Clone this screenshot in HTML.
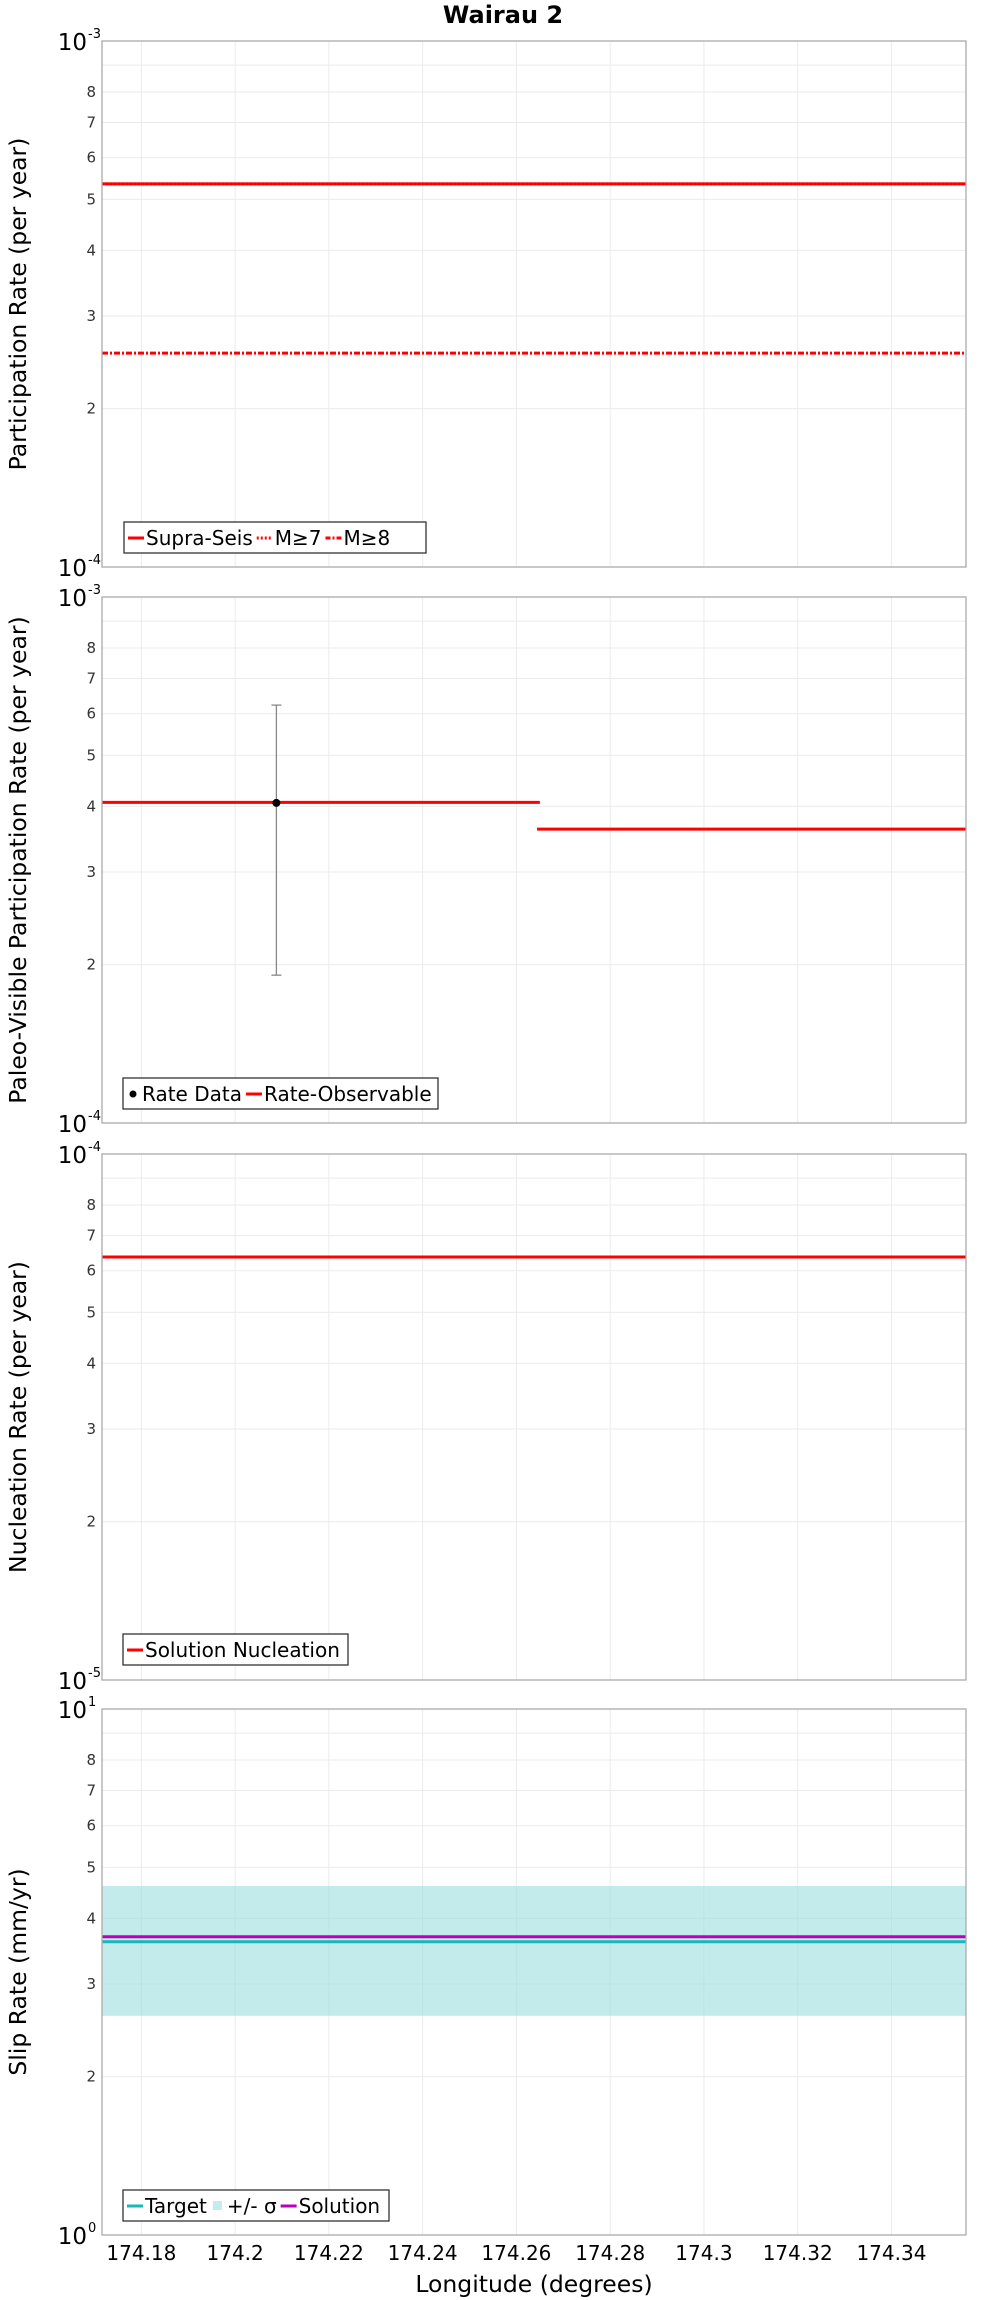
<!DOCTYPE html>
<html><head><meta charset="utf-8"><style>
html,body{margin:0;padding:0;background:#fff;width:1000px;height:2300px;overflow:hidden}
svg{display:block;font-family:"DejaVu Sans","Liberation Sans",sans-serif}
</style></head><body>
<svg id="chart" width="1000" height="2300" viewBox="0 0 1000 2300" xmlns="http://www.w3.org/2000/svg">
<text x="503" y="23" text-anchor="middle" font-size="24" font-weight="bold">Wairau 2</text>
</svg>
<script>
const xTicks = [174.18,174.2,174.22,174.24,174.26,174.28,174.3,174.32,174.34];
const xTickLabels = ["174.18","174.2","174.22","174.24","174.26","174.28","174.3","174.32","174.34"];
const xDomain = [174.1716, 174.3559];
const minorTicks = [2,3,4,5,6,7,8,9];
const minorLabels = ["2","3","4","5","6","7","8",""];
// panel 1
const p1SupraSeis = 5.35e-4;
const p1M7 = 5.35e-4;
const p1M8 = 2.55e-4;
// panel 2
const p2SegStart = [174.1716, 174.2644];
const p2SegEnd = [174.2650, 174.3559];
const p2SegValue = [4.07e-4, 3.62e-4];
const p2DataX = [174.2088];
const p2DataY = [4.06e-4];
const p2DataHi = [6.23e-4];
const p2DataLo = [1.91e-4];
// panel 3
const p3Nucleation = 6.37e-5;
// panel 4
const p4Target = 3.61;
const p4SigmaHi = 4.61;
const p4SigmaLo = 2.61;
const p4Solution = 3.69;

const NS="http://www.w3.org/2000/svg";
const svg=document.getElementById('chart');
const L=102,R=966,H=526;
const tops=[41,597,1154,1709];
function xs(v){return L+(v-xDomain[0])/(xDomain[1]-xDomain[0])*(R-L);}
function mk(tag,attrs,parent){const e=document.createElementNS(NS,tag);for(const k in attrs)e.setAttribute(k,attrs[k]);(parent||svg).appendChild(e);return e;}
function ysFactory(top,lo){return v=>top+H-(Math.log10(v)-lo)*H;}

const panels=[
 {lo:-4,title:"Participation Rate (per year)",topExp:"-3",botExp:"-4",name:"participation"},
 {lo:-4,title:"Paleo-Visible Participation Rate (per year)",topExp:"-3",botExp:"-4",name:"paleo"},
 {lo:-5,title:"Nucleation Rate (per year)",topExp:"-4",botExp:"-5",name:"nucleation"},
 {lo:0,title:"Slip Rate (mm/yr)",topExp:"1",botExp:"0",name:"slip"}
];
const ysArr=[];
panels.forEach((p,i)=>{
 const top=tops[i];const ys=ysFactory(top,p.lo);ysArr.push(ys);
 const g=mk('g',{});
 
 
 mk('rect',{x:L,y:top,width:R-L,height:H,fill:'#fff'},g);
 xTicks.forEach(t=>{const l=mk('line',{x1:xs(t),x2:xs(t),y1:top,y2:top+H,stroke:'#ebebeb','stroke-width':1},g);
  });
 const base=Math.pow(10,p.lo);
 minorTicks.forEach((m,j)=>{const y=ys(m*base);
  const l=mk('line',{x1:L,x2:R,y1:y,y2:y,stroke:'#ebebeb','stroke-width':1},g);
  
  if(minorLabels[j]){const t=mk('text',{x:96,y:y+5,'text-anchor':'end','font-size':15,fill:'#333'},g);t.textContent=minorLabels[j];
   }
 });
 [[top,p.topExp],[top+H,p.botExp]].forEach(([y,e])=>{
  const t=mk('text',{x:87,y:y+9,'text-anchor':'end','font-size':23,fill:'#000'},g);t.textContent='10';
  
  const s=mk('text',{x:88,y:y-3,'font-size':13,fill:'#000'},g);s.textContent=e;
  
 });
 const yt=mk('text',{x:0,y:0,'text-anchor':'middle','font-size':23.5,fill:'#000',transform:`translate(26,${top+H/2}) rotate(-90)`},g);
 yt.textContent=p.title;
});

function hline(ys,v,x0,x1,color,w,dash,name){const y=ys(v);const l=mk('line',{x1:xs(x0),x2:xs(x1),y1:y,y2:y,stroke:color,'stroke-width':w});
 if(dash)l.setAttribute('stroke-dasharray',dash);
 return l;}

hline(ysArr[0],p1M8,xDomain[0],xDomain[1],'#ff0000',3,'6,2,2,2','m8-line');
hline(ysArr[0],p1M7,xDomain[0],xDomain[1],'#ff0000',3,'2,2','m7-line');
hline(ysArr[0],p1SupraSeis,xDomain[0],xDomain[1],'#ff0000',3,null,'supra-seis-line');
p2SegValue.forEach((v,i)=>hline(ysArr[1],v,p2SegStart[i],p2SegEnd[i],'#ff0000',3,null,'rate-observable-segment'));
p2DataX.forEach((x,i)=>{const ys=ysArr[1];const cx=xs(x);
 const e=mk('line',{x1:cx,x2:cx,y1:ys(p2DataHi[i]),y2:ys(p2DataLo[i]),stroke:'#888','stroke-width':1.3});
 
 [p2DataHi[i],p2DataLo[i]].forEach(v=>{const c=mk('line',{x1:cx-5,x2:cx+5,y1:ys(v),y2:ys(v),stroke:'#888','stroke-width':1.3});
  });
 const d=mk('circle',{cx:cx,cy:ys(p2DataY[i]),r:4,fill:'#000'});
 
});
hline(ysArr[2],p3Nucleation,xDomain[0],xDomain[1],'#ff0000',3,null,'solution-nucleation-line');
{const ys=ysArr[3];const b=mk('rect',{x:L,y:ys(p4SigmaHi),width:R-L,height:ys(p4SigmaLo)-ys(p4SigmaHi),fill:'#9edfdf','fill-opacity':0.62});
 }
hline(ysArr[3],p4Target,xDomain[0],xDomain[1],'#14b9b9',3,null,'target-line');
hline(ysArr[3],p4Solution,xDomain[0],xDomain[1],'#bb00bb',3,null,'solution-line');

tops.forEach(top=>{const f=mk('rect',{x:L,y:top,width:R-L,height:H,fill:'none',stroke:'#aaa','stroke-width':1.3});
 });

xTicks.forEach((t,i)=>{const e=mk('text',{x:xs(t),y:2260,'text-anchor':'middle','font-size':20,fill:'#000'});e.textContent=xTickLabels[i];
 });
{const e=mk('text',{x:534,y:2292,'text-anchor':'middle','font-size':23.5,fill:'#000'});e.textContent='Longitude (degrees)';
 }

function legend(x,y,w,items,name){const g=mk('g',{});
 const box=mk('rect',{x:x,y:y,width:w,height:31,fill:'#fff',stroke:'#333','stroke-width':1.3},g);
 let cx=x+4;const cy=y+16;
 items.forEach(it=>{
  if(it.kind==='dot'){mk('circle',{cx:cx+6,cy:cy,r:3.5,fill:'#000'},g);cx+=15;}
  else if(it.kind==='sq'){mk('rect',{x:cx+2,y:cy-5,width:9,height:9,fill:'#c3ecec'},g);cx+=16;}
  else{const l=mk('line',{x1:cx,x2:cx+16,y1:cy,y2:cy,stroke:it.color,'stroke-width':3},g);if(it.dash)l.setAttribute('stroke-dasharray',it.dash);cx+=18;}
  const t=mk('text',{x:cx,y:cy+7,'font-size':20,fill:'#000'},g);t.textContent=it.label;
  
  cx+=t.getComputedTextLength()+4;
 });
 box.setAttribute('width',Math.max(w,cx-x));}
legend(124,522,302,[{color:'#f00',label:'Supra-Seis'},{color:'#f00',dash:'2,2',label:'M≥7'},{color:'#f00',dash:'5,2,2,2',label:'M≥8'}],'legend-participation');
legend(123,1078,315,[{kind:'dot',label:'Rate Data'},{color:'#f00',label:'Rate-Observable'}],'legend-paleo');
legend(123,1634,225,[{color:'#f00',label:'Solution Nucleation'}],'legend-nucleation');
legend(123,2190,266,[{color:'#14b9b9',label:'Target'},{kind:'sq',label:'+/- σ'},{color:'#bb00bb',label:'Solution'}],'legend-slip');
</script>
</body></html>
